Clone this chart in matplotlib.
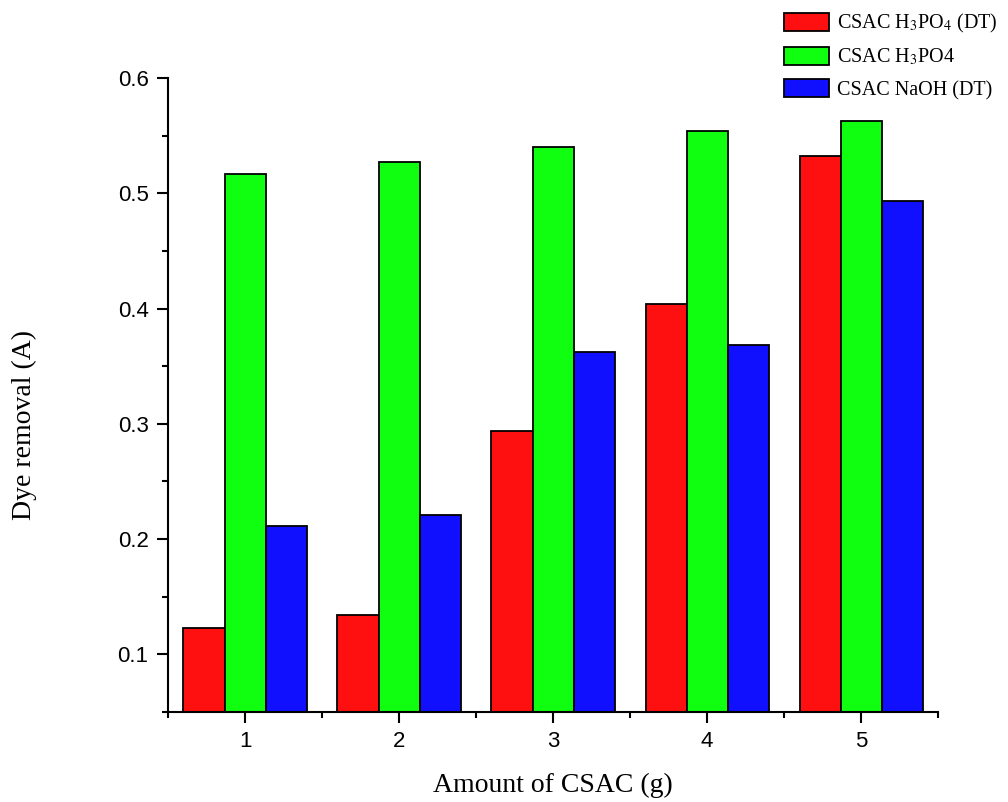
import numpy as np
import matplotlib
matplotlib.use("Agg")
import matplotlib.pyplot as plt
from matplotlib.ticker import MultipleLocator, FormatStrFormatter

# data
amounts = [1, 2, 3, 4, 5]
h3po4_dt = [0.123, 0.134, 0.294, 0.404, 0.532]
h3po4 = [0.517, 0.527, 0.540, 0.554, 0.563]
naoh_dt = [0.211, 0.221, 0.362, 0.368, 0.493]
labels = ["CSAC H$_3$PO$_4$ (DT)", "CSAC H$_3$PO4", "CSAC NaOH (DT)"]
colors = ["#ff1010", "#10ff10", "#1010ff"]

plt.rcParams["mathtext.fontset"] = "stix"

fig = plt.figure(figsize=(10.08, 8.02), dpi=100)
ax = fig.add_axes([0.1667, 0.1122, 0.764, 0.7905])

x = np.array(amounts)
w = 0.8 / 3
for i, (vals, c, lab) in enumerate(zip([h3po4_dt, h3po4, naoh_dt], colors, labels)):
    ax.bar(x + (i - 1) * w, vals, width=w, color=c, edgecolor="black",
           linewidth=1.3, label=lab, zorder=3)

ax.set_xlim(0.5, 5.5)
ax.set_ylim(0.05, 0.6)
ax.set_xticks(amounts)
ax.set_xticks([0.5, 1.5, 2.5, 3.5, 4.5, 5.5], minor=True)
ax.yaxis.set_major_locator(MultipleLocator(0.1))
ax.yaxis.set_minor_locator(MultipleLocator(0.05))
ax.yaxis.set_major_formatter(FormatStrFormatter("%.1f"))

for s in ["top", "right"]:
    ax.spines[s].set_visible(False)
for s in ["left", "bottom"]:
    ax.spines[s].set_linewidth(1.5)
    ax.spines[s].set_zorder(4)

ax.tick_params(which="major", length=8, width=1.5, labelsize=16, pad=6)
ax.tick_params(which="minor", length=4.3, width=1.5)
for t in ax.get_xticklabels() + ax.get_yticklabels():
    t.set_family("Liberation Sans")

ax.set_xlabel("Amount of CSAC (g)", fontsize=20, family="Liberation Serif",
              labelpad=15)
ax.set_ylabel("Dye removal (A)", fontsize=20, family="Liberation Serif")
ax.yaxis.set_label_coords(-0.170, 0.453)

fig.legend(loc="upper left", bbox_to_anchor=(784 / 1008, 1 - 12 / 802),
           frameon=False, prop={"family": "Liberation Serif", "size": 14.5},
           handlelength=2.24, handleheight=1.0, handletextpad=0.4,
           labelspacing=0.58, borderaxespad=0, borderpad=0)

fig.savefig("out.png", dpi=100)
